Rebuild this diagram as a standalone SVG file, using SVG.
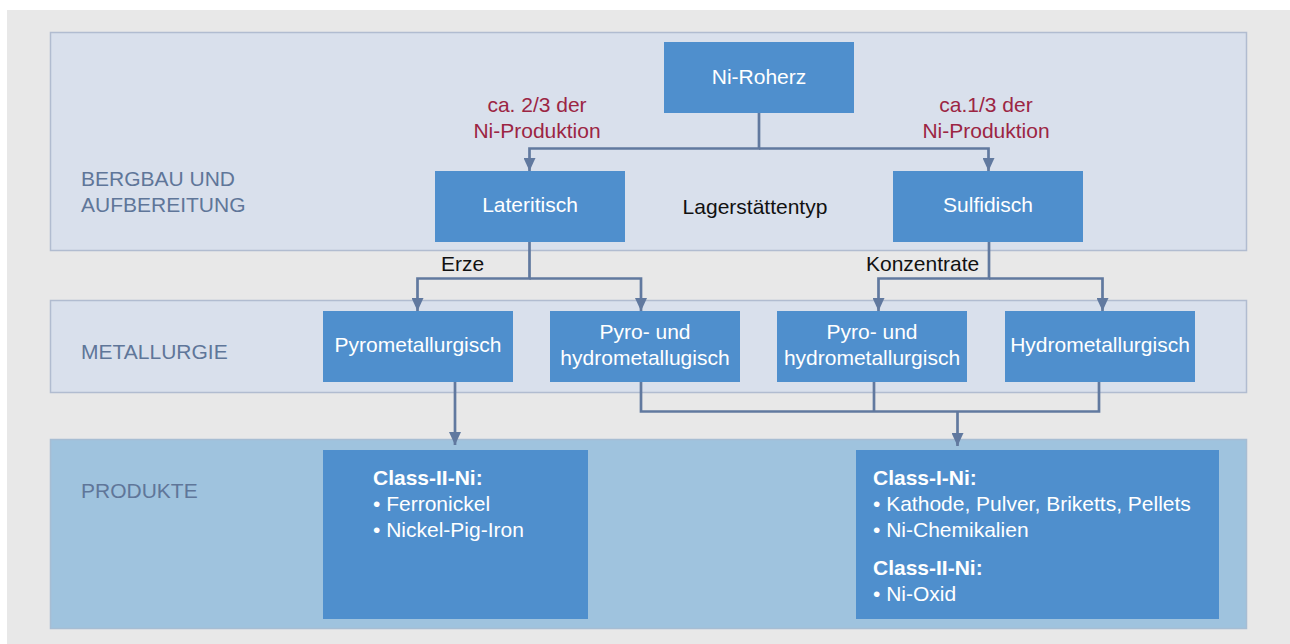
<svg xmlns="http://www.w3.org/2000/svg" width="1290" height="644" viewBox="0 0 1290 644">
<defs>
<style>
.bg{fill:#e8e8e8}
.band{fill:#d9e0ec;stroke:#b1bcd0;stroke-width:1.5}
.band3{fill:#9fc3de;stroke:#a7bdd3;stroke-width:1.5}
.box{fill:#4f8fcd}
.t{font-family:"Liberation Sans",Arial,sans-serif;font-size:21px}
.w{fill:#ffffff}
.lbl{fill:#5f7699}
.red{fill:#9c2543}
.blk{fill:#111111}
.b{font-weight:bold}
.c{stroke:#61799f;stroke-width:2.7;fill:none}
</style>
<marker id="ah" markerUnits="userSpaceOnUse" markerWidth="14" markerHeight="12" viewBox="0 0 14 12" refX="13" refY="6" orient="auto">
<path d="M0,0 L13,6 L0,12 Z" fill="#61799f"/>
</marker>
</defs>
<rect class="bg" x="7" y="10" width="1283" height="634"/>
<g id="band-bergbau">
<rect class="band" x="50.5" y="32.5" width="1196" height="218"/>
<text class="t lbl" x="81" y="186">BERGBAU UND</text>
<text class="t lbl" x="81" y="212">AUFBEREITUNG</text>
</g>
<g id="band-metallurgie">
<rect class="band" x="50.5" y="300.5" width="1196" height="92"/>
<text class="t lbl" x="81" y="359">METALLURGIE</text>
</g>
<g id="band-produkte">
<rect class="band3" x="50.5" y="439.5" width="1196" height="189"/>
<text class="t lbl" x="81" y="498">PRODUKTE</text>
</g>
<g id="connectors">
<path class="c" d="M759,112 V148.5 H529.5 V171" marker-end="url(#ah)"/>
<path class="c" d="M759,148.5 H988.5 V171" marker-end="url(#ah)"/>
<path class="c" d="M529.5,241 V278.5 H417.5 V311" marker-end="url(#ah)"/>
<path class="c" d="M529.5,278.5 H641 V311" marker-end="url(#ah)"/>
<path class="c" d="M989,241 V278.5 H878.5 V311" marker-end="url(#ah)"/>
<path class="c" d="M989,278.5 H1102.5 V311" marker-end="url(#ah)"/>
<path class="c" d="M455,381 V445" marker-end="url(#ah)"/>
<path class="c" d="M641,381 V411.5 H1099 V381"/>
<path class="c" d="M874,381 V411.5"/>
<path class="c" d="M957.5,411.5 V446" marker-end="url(#ah)"/>
</g>
<g id="edge-labels">
<text class="t red" x="537" y="112" text-anchor="middle">ca. 2/3 der</text>
<text class="t red" x="537" y="138" text-anchor="middle">Ni-Produktion</text>
<text class="t red" x="986" y="112" text-anchor="middle">ca.1/3 der</text>
<text class="t red" x="986" y="138" text-anchor="middle">Ni-Produktion</text>
<text class="t blk" x="755" y="214" text-anchor="middle">Lagerstättentyp</text>
<text class="t blk" x="441" y="271">Erze</text>
<text class="t blk" x="866" y="271">Konzentrate</text>
</g>
<g id="node-roherz">
<rect class="box" x="664" y="42" width="190" height="71"/>
<text class="t w" x="759" y="84" text-anchor="middle">Ni-Roherz</text>
</g>
<g id="node-lateritisch">
<rect class="box" x="435" y="171" width="190" height="71"/>
<text class="t w" x="530" y="212" text-anchor="middle">Lateritisch</text>
</g>
<g id="node-sulfidisch">
<rect class="box" x="893" y="171" width="190" height="71"/>
<text class="t w" x="988" y="212" text-anchor="middle">Sulfidisch</text>
</g>
<g id="node-pyro">
<rect class="box" x="323" y="311" width="190" height="71"/>
<text class="t w" x="418" y="352" text-anchor="middle">Pyrometallurgisch</text>
</g>
<g id="node-pyrohydro1">
<rect class="box" x="550" y="311" width="190" height="71"/>
<text class="t w" x="645" y="339" text-anchor="middle">Pyro- und</text>
<text class="t w" x="645" y="365" text-anchor="middle">hydrometallugisch</text>
</g>
<g id="node-pyrohydro2">
<rect class="box" x="777" y="311" width="190" height="71"/>
<text class="t w" x="872" y="339" text-anchor="middle">Pyro- und</text>
<text class="t w" x="872" y="365" text-anchor="middle">hydrometallurgisch</text>
</g>
<g id="node-hydro">
<rect class="box" x="1005" y="311" width="190" height="71"/>
<text class="t w" x="1100" y="352" text-anchor="middle">Hydrometallurgisch</text>
</g>
<g id="node-class2">
<rect class="box" x="323" y="450" width="265" height="169"/>
<text class="t w b" x="373" y="485">Class-II-Ni:</text>
<text class="t w" x="373" y="511">• Ferronickel</text>
<text class="t w" x="373" y="537">• Nickel-Pig-Iron</text>
</g>
<g id="node-class1">
<rect class="box" x="856" y="450" width="363" height="169"/>
<text class="t w b" x="873" y="485">Class-I-Ni:</text>
<text class="t w" x="873" y="511">• Kathode, Pulver, Briketts, Pellets</text>
<text class="t w" x="873" y="537">• Ni-Chemikalien</text>
<text class="t w b" x="873" y="575">Class-II-Ni:</text>
<text class="t w" x="873" y="601">• Ni-Oxid</text>
</g>
</svg>
